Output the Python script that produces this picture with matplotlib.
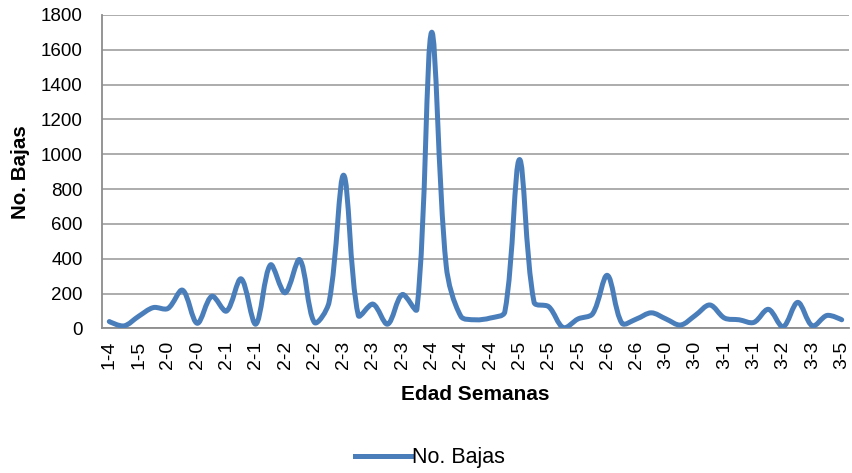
import numpy as np
import matplotlib
matplotlib.use("Agg")
import matplotlib.pyplot as plt
from matplotlib.path import Path
from matplotlib.patches import PathPatch
from matplotlib.lines import Line2D

plt.rcParams['font.family'] = ['Liberation Sans', 'DejaVu Sans']

# bajas por semana de edad (51 registros, se rotula uno de cada dos)
bajas = [40, 15, 70, 120, 115, 220, 30, 185, 100, 285,
         25, 365, 205, 395, 35, 150, 880, 75, 140, 25,
         195, 110, 1700, 360, 70, 50, 60, 95, 970, 150,
         125, 5, 55, 85, 305, 30, 55, 90, 55, 20,
         75, 135, 60, 50, 35, 110, 10, 150, 15, 75, 50]
etiquetas = ['1-4', '1-5', '2-0', '2-0', '2-1', '2-1', '2-2', '2-2', '2-3', '2-3',
             '2-3', '2-4', '2-4', '2-4', '2-5', '2-5', '2-5', '2-6', '2-6', '3-0',
             '3-0', '3-1', '3-1', '3-2', '3-3', '3-5']
serie = 'No. Bajas'
azul = '#4a7ebb'


def curva_suave(ax, xs, ys, t=1/3.0):
    # linea suavizada: Bezier cubica cuyas tangentes se reparten segun la
    # longitud en pantalla de cada tramo (evita rebotes junto a los picos)
    trans = ax.transData
    p = trans.transform(np.column_stack([xs, ys]).astype(float))
    n = len(p)
    antes = p.copy()
    despues = p.copy()
    for i in range(1, n - 1):
        d01 = np.hypot(*(p[i] - p[i - 1]))
        d12 = np.hypot(*(p[i + 1] - p[i]))
        tang = p[i + 1] - p[i - 1]
        antes[i] = p[i] - t * d01 / (d01 + d12) * tang
        despues[i] = p[i] + t * d12 / (d01 + d12) * tang
    verts = [p[0]]
    codes = [Path.MOVETO]
    for i in range(n - 1):
        verts += [despues[i], antes[i + 1], p[i + 1]]
        codes += [Path.CURVE4] * 3
    verts = trans.inverted().transform(np.array(verts))
    return Path(verts, codes)


fig = plt.figure(figsize=(8.52, 4.73), dpi=100)
ax = fig.add_axes([0.1197, 0.3055, 0.8768, 0.6628])

x = np.arange(len(bajas))
ax.set_xlim(-0.5, len(bajas) - 0.5)
ax.set_ylim(0, 1800)
ax.add_patch(PathPatch(curva_suave(ax, x, bajas), fill=False, edgecolor=azul,
                       lw=3.6, capstyle='round', joinstyle='round', zorder=3))

ax.set_yticks(np.arange(0, 1801, 200))
ax.set_xticks(x[::2])
ax.set_xticklabels(etiquetas, rotation=90)

ax.grid(axis='y', color='#a6a6a6', lw=1.3)
ax.set_axisbelow(True)
for lado in ['top', 'right']:
    ax.spines[lado].set_visible(False)
for lado in ['left', 'bottom']:
    ax.spines[lado].set_color('#8c8c8c')
    ax.spines[lado].set_linewidth(1.3)

ax.tick_params(axis='y', length=0, pad=14, labelsize=13.5)
ax.tick_params(axis='x', length=0, pad=9, labelsize=14)

ax.set_ylabel('No. Bajas', fontsize=14.8, fontweight='bold', labelpad=8)
ax.set_xlabel('Edad Semanas', fontsize=15, fontweight='bold', labelpad=11)

fig.legend(handles=[Line2D([], [], color=azul, lw=3.6, label=serie)],
           loc='center', bbox_to_anchor=(0.505, 0.032), frameon=False,
           fontsize=15.5, handlelength=2.6, handletextpad=0.05)

fig.savefig('out.png', dpi=100)
